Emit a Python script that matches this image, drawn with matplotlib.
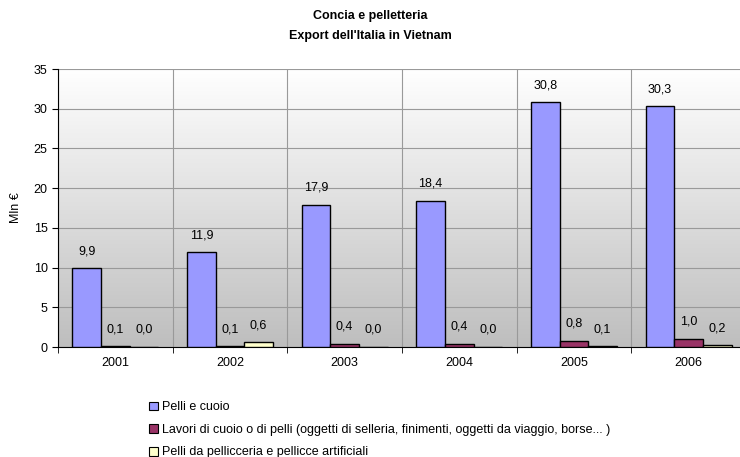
import numpy as np
import matplotlib
matplotlib.use('Agg')
import matplotlib.pyplot as plt
from matplotlib.patches import Patch

plt.rcParams['font.family'] = ['Liberation Sans', 'DejaVu Sans']

years = ['2001', '2002', '2003', '2004', '2005', '2006']
pelli = [9.9, 11.9, 17.9, 18.4, 30.8, 30.3]
lavori = [0.1, 0.1, 0.4, 0.4, 0.8, 1.0]
pellicce = [0.0, 0.6, 0.0, 0.0, 0.1, 0.2]
series_names = ['Pelli e cuoio',
                'Lavori di cuoio o di pelli (oggetti di selleria, finimenti, oggetti da viaggio, borse... )',
                'Pelli da pellicceria e pellicce artificiali']
colors = ['#9999FF', '#993366', '#FFFFCC']

W, H = 740, 457
fig = plt.figure(figsize=(W / 100, H / 100), dpi=100)
ax = fig.add_axes([58 / W, 1 - 347 / H, (746 - 58) / W, (347 - 69) / H])

# gradient background
grad = np.linspace(1, 0, 256).reshape(-1, 1)
ax.imshow(grad, extent=[-0.5, 5.5, 0, 35], aspect='auto', origin='lower',
          cmap=matplotlib.colors.LinearSegmentedColormap.from_list('g', ['#FFFFFF', '#BEBEBE']),
          vmin=0, vmax=1, zorder=0)

x = np.arange(len(years))
w = 0.25
for k, (vals, col) in enumerate(zip([pelli, lavori, pellicce], colors)):
    pos = x + (k - 1) * w
    ax.bar(pos, vals, width=w, color=col, edgecolor='black', linewidth=1.0, zorder=3)
    for p, v in zip(pos, vals):
        ax.annotate(f'{v:.1f}'.replace('.', ','), (p, v), xytext=(0, 8),
                    textcoords='offset points', ha='center', va='bottom', fontsize=9)

ax.set_xlim(-0.5, 5.5)
ax.set_ylim(0, 35)
ax.set_yticks(np.arange(0, 36, 5))
ax.set_xticks(x)
ax.set_xticklabels(years, fontsize=9)
ax.set_xticks(np.arange(-0.5, 6, 1), minor=True)
ax.tick_params(axis='x', which='major', length=0, pad=7)
ax.tick_params(axis='x', which='minor', length=4, direction='out')
ax.tick_params(axis='y', labelsize=9, length=4, direction='out')
ax.grid(True, axis='y', color='#999999', linewidth=0.8, zorder=1)
ax.grid(True, axis='x', which='minor', color='#999999', linewidth=0.8, zorder=1)
for s in ['top', 'right']:
    ax.spines[s].set_visible(False)
ax.set_ylabel('Mln €', fontsize=9, labelpad=8)

fig.text(370 / W, 1 - 16 / H, 'Concia e pelletteria', ha='center', va='center',
         fontsize=9, fontweight='bold')
fig.text(370 / W, 1 - 36 / H, "Export dell'Italia in Vietnam", ha='center', va='center',
         fontsize=9, fontweight='bold')

handles = [Patch(facecolor=c, edgecolor='black', linewidth=0.8) for c in colors]
fig.legend(handles, series_names, loc='upper left', bbox_to_anchor=(143 / W, 1 - 395 / H),
           frameon=False, fontsize=9, handlelength=0.7, handleheight=0.7,
           handletextpad=0.3, labelspacing=0.85, borderpad=0)

fig.savefig('out.png', dpi=100)
